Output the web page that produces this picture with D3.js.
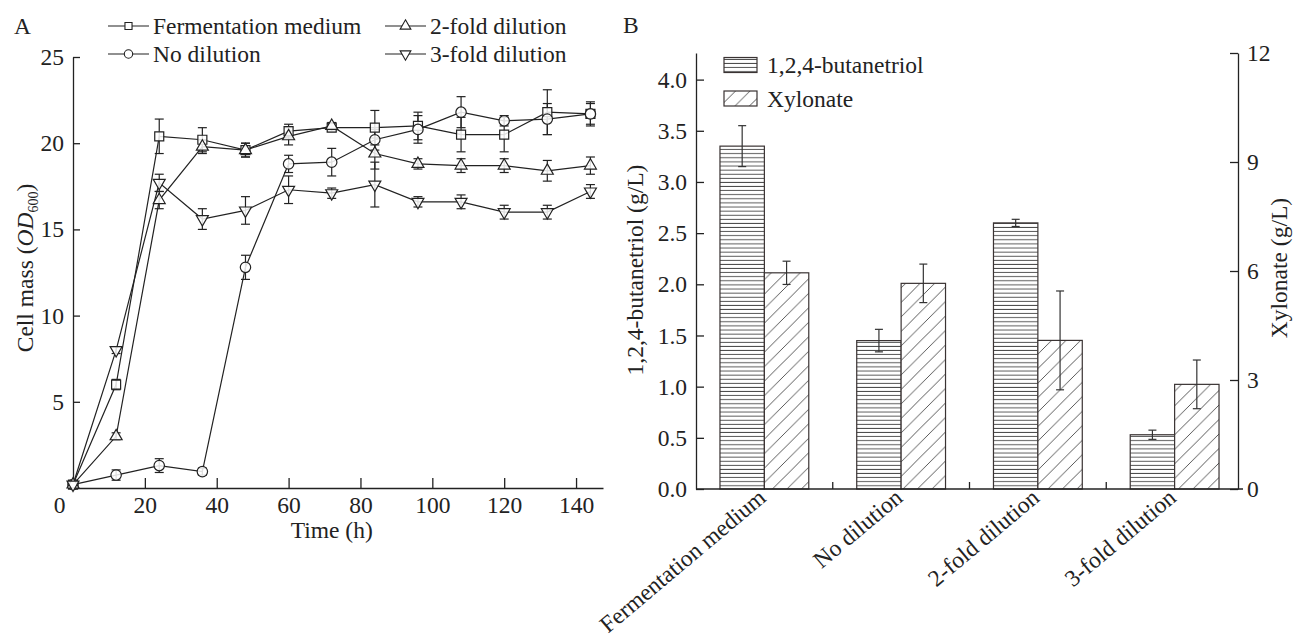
<!DOCTYPE html>
<html>
<head>
<meta charset="utf-8">
<script src="https://cdn.jsdelivr.net/npm/d3@7/dist/d3.min.js"></script>
<style>
  html, body { margin: 0; padding: 0; background: #fff; }
  svg text { font-family: "Liberation Serif", "Times New Roman", serif; fill: #222; }
</style>
</head>
<body>
<svg id="chart" width="1293" height="641"></svg>
<script>
// ---------- Panel A data ----------
const times = [0, 12, 24, 36, 48, 60, 72, 84, 96, 108, 120, 132, 144];
const fermMedium     = [0.2, 6.0, 20.4, 20.2, 19.6, 20.7, 20.9, 20.9, 21.0, 20.5, 20.5, 21.8, 21.7];
const fermMediumErr  = [0, 0.3, 1.0, 0.7, 0.4, 0.4, 0.2, 1.0, 0.8, 1.0, 1.0, 1.3, 0.7];
const noDilution     = [0.2, 0.75, 1.3, 0.95, 12.8, 18.8, 18.9, 20.2, 20.8, 21.8, 21.3, 21.4, 21.7];
const noDilutionErr  = [0, 0.3, 0.4, 0.2, 0.7, 0.5, 0.8, 0.6, 0.8, 0.9, 0.3, 0.9, 0.6];
const twoFold        = [0.2, 3.0, 16.7, 19.8, 19.6, 20.4, 21.0, 19.4, 18.8, 18.7, 18.7, 18.4, 18.7];
const twoFoldErr     = [0, 0.2, 0.5, 0.4, 0.4, 0.5, 0.2, 0.9, 0.3, 0.4, 0.4, 0.6, 0.5];
const threeFold      = [0.2, 8.0, 17.7, 15.6, 16.1, 17.3, 17.1, 17.6, 16.6, 16.6, 16.0, 16.0, 17.2];
const threeFoldErr   = [0, 0.2, 0.5, 0.6, 0.8, 0.8, 0.3, 1.3, 0.3, 0.4, 0.4, 0.4, 0.4];
const seriesNamesA   = ["Fermentation medium", "No dilution", "2-fold dilution", "3-fold dilution"];
const xTicksA = [0, 20, 40, 60, 80, 100, 120, 140];
const yTicksA = [5, 10, 15, 20, 25];

// ---------- Panel B data ----------
const categories     = ["Fermentation medium", "No dilution", "2-fold dilution", "3-fold dilution"];
const butanetriol    = [3.35, 1.45, 2.60, 0.53];
const butanetriolErr = [0.20, 0.11, 0.035, 0.045];
const xylonate       = [5.95, 5.66, 4.09, 2.88];
const xylonateErr    = [0.32, 0.53, 1.36, 0.67];
const yTicksBLeft  = [0, 0.5, 1.0, 1.5, 2.0, 2.5, 3.0, 3.5, 4.0];
const yTicksBRight = [0, 3, 6, 9, 12];

const INK = "#222";
const FS = 23.5;
const svg = d3.select("#chart");

// ================= PANEL A =================
const xA = d3.scaleLinear().domain([0, 147.5]).range([73, 603]);
const yA = d3.scaleLinear().domain([0, 25]).range([488, 57]);

const gA = svg.append("g");

// axes
const axA_y = gA.append("g").attr("transform", `translate(${xA(0)},0)`)
  .call(d3.axisLeft(yA).tickValues(yTicksA).tickSize(-7).tickSizeOuter(0).tickPadding(9));
const axA_x = gA.append("g").attr("transform", `translate(0,${yA(0)})`)
  .call(d3.axisBottom(xA).tickValues(xTicksA).tickSize(-10).tickSizeOuter(0).tickPadding(8));
[axA_y, axA_x].forEach(a => {
  a.selectAll("path.domain").attr("stroke", INK).attr("stroke-width", 1.3);
  a.selectAll(".tick line").attr("stroke", INK).attr("stroke-width", 1.3);
  a.selectAll(".tick text").attr("font-size", FS).attr("fill", INK)
    .attr("font-family", '"Liberation Serif", "Times New Roman", serif');
});
axA_x.selectAll(".tick text").filter(d => d === 0).attr("dx", -14);
axA_x.selectAll(".tick line").filter(d => d === 0).remove();

// axis titles
gA.append("text").attr("x", xA(72)).attr("y", 538).attr("text-anchor", "middle")
  .attr("font-size", FS).text("Time (h)");
const ylab = gA.append("text").attr("transform", "translate(33,268) rotate(-90)")
  .attr("text-anchor", "middle").attr("font-size", FS);
ylab.append("tspan").text("Cell mass (");
ylab.append("tspan").attr("font-style", "italic").text("OD");
ylab.append("tspan").attr("font-size", 14).attr("dy", 5).text("600");
ylab.append("tspan").attr("dy", -5).text(")");
gA.append("text").attr("x", 14).attr("y", 34).attr("font-size", FS).text("A");

// series
const seriesA = [
  { name: seriesNamesA[0], vals: fermMedium, err: fermMediumErr, sym: "square" },
  { name: seriesNamesA[1], vals: noDilution, err: noDilutionErr, sym: "circle" },
  { name: seriesNamesA[2], vals: twoFold,    err: twoFoldErr,    sym: "up" },
  { name: seriesNamesA[3], vals: threeFold,  err: threeFoldErr,  sym: "down" },
];
function symPath(kind) {
  if (kind === "square") return d3.symbol(d3.symbolSquare, 81)();
  if (kind === "circle") return d3.symbol(d3.symbolCircle, 85)();
  return d3.symbol(d3.symbolTriangle, 62)();
}
function symTransform(kind, x, y) {
  if (kind === "down") return `translate(${x},${y}) rotate(180)`;
  return `translate(${x},${y})`;
}
const line = d3.line().x(d => xA(d[0])).y(d => yA(d[1]));

seriesA.forEach(s => {
  const pts = times.map((t, i) => [t, s.vals[i], s.err[i]]);
  gA.append("path").datum(pts).attr("d", line).attr("fill", "none")
    .attr("stroke", INK).attr("stroke-width", 1.2);
});
seriesA.forEach(s => {
  const pts = times.map((t, i) => [t, s.vals[i], s.err[i]]);
  const eb = gA.append("g").attr("stroke", INK).attr("stroke-width", 1.2);
  pts.filter(p => p[2] > 0).forEach(p => {
    const x = xA(p[0]), y1 = yA(p[1] - p[2]), y2 = yA(p[1] + p[2]);
    eb.append("line").attr("x1", x).attr("x2", x).attr("y1", y1).attr("y2", y2);
    eb.append("line").attr("x1", x - 4.5).attr("x2", x + 4.5).attr("y1", y1).attr("y2", y1);
    eb.append("line").attr("x1", x - 4.5).attr("x2", x + 4.5).attr("y1", y2).attr("y2", y2);
  });
});
seriesA.forEach(s => {
  const pts = times.map((t, i) => [t, s.vals[i]]);
  gA.append("g").selectAll("path").data(pts).join("path")
    .attr("d", symPath(s.sym))
    .attr("transform", d => symTransform(s.sym, xA(d[0]), yA(d[1])))
    .attr("fill", "#fff").attr("fill-opacity", 0.85).attr("stroke", INK).attr("stroke-width", 1.2);
});

// legend A
const legA = [
  { s: seriesA[0], x: 108, y: 26 },
  { s: seriesA[1], x: 108, y: 54 },
  { s: seriesA[2], x: 385, y: 26 },
  { s: seriesA[3], x: 385, y: 54 },
];
legA.forEach(l => {
  const g = gA.append("g");
  g.append("line").attr("x1", l.x).attr("x2", l.x + 41).attr("y1", l.y).attr("y2", l.y)
    .attr("stroke", INK).attr("stroke-width", 1.2);
  g.append("path").attr("d", d3.symbol(l.s.sym === "square" ? d3.symbolSquare : l.s.sym === "circle" ? d3.symbolCircle : d3.symbolTriangle, l.s.sym === "circle" ? 55 : 50)())
    .attr("transform", symTransform(l.s.sym, l.x + 20.5, l.y))
    .attr("fill", "#fff").attr("stroke", INK).attr("stroke-width", 1.1);
  g.append("text").attr("x", l.x + 45).attr("y", l.y).attr("dy", "0.35em")
    .attr("font-size", FS).text(l.s.name);
});

// ================= PANEL B =================
const xB = d3.scaleBand().domain(categories).range([696, 1243]).paddingInner(0).paddingOuter(0);
const yBL = d3.scaleLinear().domain([0, 4.26]).range([489, 53]);
const yBR = d3.scaleLinear().domain([0, 12]).range([489, 53]);
const barW = 44.4;
const gB = svg.append("g");

const defs = svg.append("defs");
const ph = defs.append("pattern").attr("id", "hatchH").attr("patternUnits", "userSpaceOnUse")
  .attr("width", 8).attr("height", 4.1);
ph.append("rect").attr("width", 8).attr("height", 4.1).attr("fill", "#fff");
ph.append("line").attr("x1", 0).attr("x2", 8).attr("y1", 2).attr("y2", 2)
  .attr("stroke", "#444").attr("stroke-width", 0.9);
const pd = defs.append("pattern").attr("id", "hatchD").attr("patternUnits", "userSpaceOnUse")
  .attr("width", 14.5).attr("height", 14.5);
pd.append("rect").attr("width", 14.5).attr("height", 14.5).attr("fill", "#fff");
pd.append("path").attr("d", "M0,14.5 L14.5,0 M-3,3 L3,-3 M11.5,17.5 L17.5,11.5")
  .attr("stroke", "#444").attr("stroke-width", 0.9);

// bars
const BAR_STROKE = "#3a3333";
categories.forEach((c, i) => {
  const cx = xB(c) + xB.bandwidth() / 2;
  const x1 = cx - barW, x2 = cx;
  gB.append("rect").attr("x", x1).attr("y", yBL(butanetriol[i])).attr("width", barW)
    .attr("height", yBL(0) - yBL(butanetriol[i])).attr("fill", "url(#hatchH)")
    .attr("stroke", BAR_STROKE).attr("stroke-width", 1.2);
  gB.append("rect").attr("x", x2).attr("y", yBR(xylonate[i])).attr("width", barW)
    .attr("height", yBR(0) - yBR(xylonate[i])).attr("fill", "url(#hatchD)")
    .attr("stroke", BAR_STROKE).attr("stroke-width", 1.2);
});
// error bars
function errBar(x, ylo, yhi) {
  const g = gB.append("g").attr("stroke", "#333").attr("stroke-width", 1.2);
  g.append("line").attr("x1", x).attr("x2", x).attr("y1", ylo).attr("y2", yhi);
  g.append("line").attr("x1", x - 4).attr("x2", x + 4).attr("y1", ylo).attr("y2", ylo);
  g.append("line").attr("x1", x - 4).attr("x2", x + 4).attr("y1", yhi).attr("y2", yhi);
}
categories.forEach((c, i) => {
  const cx = xB(c) + xB.bandwidth() / 2;
  errBar(cx - barW / 2, yBL(butanetriol[i] - butanetriolErr[i]), yBL(butanetriol[i] + butanetriolErr[i]));
  errBar(cx + barW / 2, yBR(xylonate[i] - xylonateErr[i]), yBR(xylonate[i] + xylonateErr[i]));
});

// axes B
const axBL = gB.append("g").attr("transform", `translate(696,0)`)
  .call(d3.axisLeft(yBL).tickValues(yTicksBLeft).tickFormat(d3.format(".1f"))
    .tickSize(-8).tickSizeOuter(0).tickPadding(9));
const axBR = gB.append("g").attr("transform", `translate(1238,0)`)
  .call(d3.axisRight(yBR).tickValues(yTicksBRight).tickSize(-8).tickSizeOuter(0).tickPadding(9));
[axBL, axBR].forEach(a => {
  a.selectAll("path.domain").attr("stroke", INK).attr("stroke-width", 1.3);
  a.selectAll(".tick line").attr("stroke", INK).attr("stroke-width", 1.3);
  a.selectAll(".tick text").attr("font-size", FS).attr("fill", INK)
    .attr("font-family", '"Liberation Serif", "Times New Roman", serif');
});
// x axis B
gB.append("line").attr("x1", 696).attr("x2", 1243).attr("y1", yBL(0)).attr("y2", yBL(0))
  .attr("stroke", INK).attr("stroke-width", 1.3);
categories.slice(1).forEach(c => {
  gB.append("line").attr("x1", xB(c)).attr("x2", xB(c)).attr("y1", yBL(0)).attr("y2", yBL(0) - 7)
    .attr("stroke", INK).attr("stroke-width", 1.3);
});
categories.forEach(c => {
  const cx = xB(c) + xB.bandwidth() / 2;
  gB.append("text").attr("transform", `translate(${cx + 3},${yBL(0) + 11}) rotate(-40)`)
    .attr("text-anchor", "end").attr("font-size", FS).text(c);
});

// titles B
gB.append("text").attr("transform", "translate(643,270) rotate(-90)").attr("text-anchor", "middle")
  .attr("font-size", FS).text("1,2,4-butanetriol (g/L)");
gB.append("text").attr("transform", "translate(1287,268) rotate(-90)").attr("text-anchor", "middle")
  .attr("font-size", FS).text("Xylonate (g/L)");
gB.append("text").attr("x", 623).attr("y", 33).attr("font-size", FS).text("B");

// legend B
const legB = [
  { label: "1,2,4-butanetriol", fill: "url(#hatchH)", y: 57.5 },
  { label: "Xylonate", fill: "url(#hatchD)", y: 91 },
];
legB.forEach(l => {
  gB.append("rect").attr("x", 724).attr("y", l.y).attr("width", 33).attr("height", 15)
    .attr("fill", l.fill).attr("stroke", BAR_STROKE).attr("stroke-width", 1.2);
  gB.append("text").attr("x", 767).attr("y", l.y + 7.5).attr("dy", "0.35em")
    .attr("font-size", FS).text(l.label);
});
</script>
</body>
</html>
